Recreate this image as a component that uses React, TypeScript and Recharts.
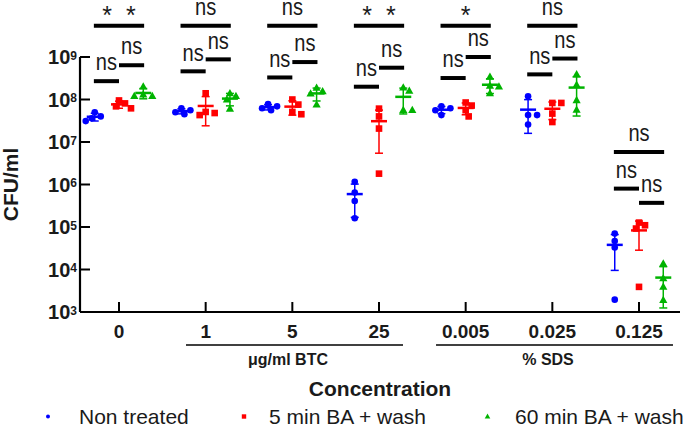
import React from 'react';
import { ComposedChart, Scatter, XAxis, YAxis, ErrorBar, ReferenceLine, Legend } from 'recharts';

// ---------- data ----------
const categories = ['0', '1', '5', '25', '0.005', '0.025', '0.125'];
const seriesNames = ['Non treated', '5 min BA + wash', '60 min BA + wash'];
const seriesColors = ['#0000ff', '#ff0000', '#00b300'];

const nonTreated = [
  [5.0e7, 4.0e7, 3.6e7, 3.1e7],
  [6.2e7, 5.6e7, 5.0e7, 4.5e7],
  [7.8e7, 6.9e7, 6.2e7, 5.6e7],
  [1.16e6, 6.5e5, 4.1e5, 1.6e5],
  [6.9e7, 6.2e7, 5.6e7, 4.3e7],
  [1.19e8, 4.3e7, 4.3e7, 2.57e7],
  [7.0e4, 4.7e4, 3.3e4, 1.95e3],
];
const fiveMinWash = [
  [9.5e7, 8.1e7, 6.9e7, 6.2e7],
  [1.4e8, 5.1e7, 4.8e7, 4.3e7],
  [1.0e8, 7.6e7, 5.1e7, 4.5e7],
  [6.1e7, 4.0e7, 2.07e7, 1.8e6],
  [8.5e7, 7.2e7, 5.6e7, 4.0e7],
  [8.3e7, 8.3e7, 4.66e7, 2.95e7],
  [1.27e5, 1.1e5, 9.2e4, 3.9e3],
];
const sixtyMinWash = [
  [2.0e8, 1.3e8, 1.2e8, 1.2e8],
  [1.4e8, 1.2e8, 1.0e8, 6.0e7],
  [1.87e8, 1.55e8, 1.38e8, 7.6e7],
  [1.9e8, 1.6e8, 5.6e7, 5.6e7],
  [3.4e8, 2.1e8, 2.0e8, 1.4e8],
  [3.9e8, 2.2e8, 9.6e7, 5.7e7],
  [1.38e4, 6.2e3, 3.9e3, 1.9e3],
];

const yTicks = [1e3, 1e4, 1e5, 1e6, 1e7, 1e8, 1e9];
const xTicks = [0, 1, 2, 3, 4, 5, 6];

// significance annotations (per concentration)
const topLevels = [5.4e9, 5.4e9, 5.4e9, 5.4e9, 5.4e9, 5.4e9, 5.8e6];
const topLabels = ['* *', 'ns', 'ns', '* *', '*', 'ns', 'ns'];
const leftLevels = [2.7e8, 4.6e8, 3.3e8, 2.0e8, 3.2e8, 3.9e8, 8.0e5];
const leftLabels = ['ns', 'ns', 'ns', 'ns', 'ns', 'ns', 'ns'];
const rightLevels = [6.4e8, 8.8e8, 7.6e8, 5.6e8, 1.0e9, 9.2e8, 3.7e5];
const rightLabels = ['ns', 'ns', 'ns', 'ns', 'ns', 'ns', 'ns'];

const groupLabels = ['\u03bcg/ml BTC', '% SDS'];
const groupStarts = [0.773, 3.658];
const groupEnds = [3.277, 6.392];

// ---------- layout ----------
const W = 688;
const H = 428;
const MARGIN = { top: 57, right: 8, bottom: 86, left: 20 };
const Y_AXIS_W = 60;
const X_AXIS_H = 30;
const PLOT_W = W - MARGIN.left - MARGIN.right - Y_AXIS_W;
const PLOT_H = H - MARGIN.top - MARGIN.bottom - X_AXIS_H;
const X_MIN = -0.45;
const X_MAX = 6.473;
const Y_MIN = 1e3;
const Y_MAX = 1e9;
const SERIES_OFFSET = [-0.28, 0, 0.28];
const BRACKET_PAD = 0.01;
const FONT = "'Liberation Sans', Arial, Helvetica, sans-serif";
const TEXT = '#1a1a1a';

const pxPerUnit = PLOT_W / (X_MAX - X_MIN);
const pxPerDecade = PLOT_H / (Math.log10(Y_MAX) - Math.log10(Y_MIN));

function swarm(values: number[], d = 6.5, step = 3): number[] {
  const placed: { x: number; y: number }[] = [];
  const order = values.map((_, i) => i).sort((a, b) => values[b] - values[a]);
  const dx = new Array(values.length).fill(0);
  for (const i of order) {
    const y = -Math.log10(values[i]) * pxPerDecade;
    for (let k = 0; k < 60; k++) {
      const off = k === 0 ? 0 : (k % 2 === 1 ? 1 : -1) * Math.ceil(k / 2) * step;
      if (placed.every((p) => Math.hypot(p.x - off, p.y - y) >= d)) {
        dx[i] = off;
        placed.push({ x: off, y });
        break;
      }
    }
  }
  return dx.map((v) => v / pxPerUnit);
}

const mean = (a: number[]) => a.reduce((s, v) => s + v, 0) / a.length;
const stdev = (a: number[]) => {
  const m = mean(a);
  return Math.sqrt(a.reduce((s, v) => s + (v - m) * (v - m), 0) / (a.length - 1));
};

const allSeries = [nonTreated, fiveMinWash, sixtyMinWash];

const pointData = allSeries.map((groups, s) =>
  groups.flatMap((vals, g) => {
    const dx = swarm(vals);
    return vals.map((v, i) => ({ x: g + SERIES_OFFSET[s] + dx[i], y: v }));
  })
);

const meanData = allSeries.map((groups, s) =>
  groups.map((vals, g) => {
    const m = mean(vals);
    const sd = stdev(vals);
    return { x: g + SERIES_OFFSET[s], y: m, err: [Math.min(sd, m * 0.999), sd] };
  })
);

// ---------- shapes ----------
const pointShape = (s: number, color: string) => (p: any) => {
  const { cx, cy } = p;
  if (cx == null || cy == null) return <g />;
  if (s === 0) return <circle cx={cx} cy={cy} r={3.3} fill={color} />;
  if (s === 1) return <rect x={cx - 3.3} y={cy - 3.3} width={6.6} height={6.6} fill={color} />;
  return (
    <polygon
      points={`${cx},${cy - 4.4} ${cx - 4.1},${cy + 2.9} ${cx + 4.1},${cy + 2.9}`}
      fill={color}
    />
  );
};

const meanShape = (color: string) => (p: any) => {
  const { cx, cy } = p;
  if (cx == null || cy == null) return <g />;
  return <line x1={cx - 8} x2={cx + 8} y1={cy} y2={cy} stroke={color} strokeWidth={2.5} />;
};

const bracketShape = (label: string) => (p: any) => {
  const mx = (p.x1 + p.x2) / 2;
  const isStar = label.includes('*');
  return (
    <g>
      <line x1={p.x1} y1={p.y1} x2={p.x2} y2={p.y2} stroke="#000" strokeWidth={4} />
      {isStar ? (
        <text x={mx} y={p.y1 - 2} textAnchor="middle" fontFamily={FONT} fontSize={25} fill={TEXT}>
          {label.replace(/ /g, '\u00a0\u00a0')}
        </text>
      ) : (
        <text
          transform={`translate(${mx},${p.y1 - 10.8}) scale(0.82,1)`}
          textAnchor="middle"
          fontFamily={FONT}
          fontSize={24.5}
          fill={TEXT}
        >
          {label}
        </text>
      )}
    </g>
  );
};

const groupShape = (label: string) => (p: any) => {
  const mx = (p.x1 + p.x2) / 2;
  return (
    <g>
      <line x1={p.x1} y1={p.y1 + 33} x2={p.x2} y2={p.y2 + 33} stroke="#000" strokeWidth={1.3} />
      <text
        x={mx - 6.5}
        y={p.y1 + 53}
        textAnchor="middle"
        fontFamily={FONT}
        fontWeight={700}
        fontSize={16}
        fill={TEXT}
      >
        {label}
      </text>
    </g>
  );
};

// ---------- ticks & labels ----------
const YTick = (props: any) => {
  const { x, y, payload } = props;
  const exp = Math.round(Math.log10(payload.value));
  return (
    <text x={x} y={y + 7.3} textAnchor="end" fontFamily={FONT} fontWeight={700} fontSize={20} fill={TEXT}>
      10
      <tspan dy={-4.6} fontSize={12}>
        {exp}
      </tspan>
    </text>
  );
};

const XTick = (props: any) => {
  const { x, y, payload } = props;
  return (
    <text x={x} y={y} textAnchor="middle" fontFamily={FONT} fontWeight={700} fontSize={19} fill={TEXT}>
      {categories[payload.value]}
    </text>
  );
};

const YLabel = (props: any) => {
  const vb = props.viewBox || { x: MARGIN.left, y: MARGIN.top, width: Y_AXIS_W, height: PLOT_H };
  return (
    <text
      transform={`translate(${vb.x - 1.7},${vb.y + vb.height / 2}) rotate(-90)`}
      textAnchor="middle"
      fontFamily={FONT}
      fontWeight={700}
      fontSize={21}
      fill={TEXT}
    >
      CFU/ml
    </text>
  );
};

const XLabel = (props: any) => {
  const vb = props.viewBox || { x: MARGIN.left + Y_AXIS_W, y: MARGIN.top + PLOT_H, width: PLOT_W, height: X_AXIS_H };
  return (
    <text
      x={vb.x + vb.width / 2}
      y={vb.y + 84}
      textAnchor="middle"
      fontFamily={FONT}
      fontWeight={700}
      fontSize={21}
      fill={TEXT}
    >
      Concentration
    </text>
  );
};

const LEG_MARK_X = [48, 244, 487.5];
const LEG_TEXT_X = [79, 269, 515];

const legendMarker = (i: number, x: number, y: number, color: string) => {
  if (i === 0) return <circle cx={x} cy={y} r={2} fill={color} />;
  if (i === 1) return <rect x={x - 2.2} y={y - 2.2} width={4.4} height={4.4} fill={color} />;
  return <polygon points={`${x},${y - 3} ${x - 2.8},${y + 2} ${x + 2.8},${y + 2}`} fill={color} />;
};

const renderLegend = (props: any) => {
  const payload = props.payload || [];
  return (
    <svg width={W} height={30} style={{ display: 'block' }}>
      {payload.map((e: any) => {
        const i = seriesNames.indexOf(e.value);
        if (i < 0) return null;
        return (
          <g key={e.value}>
            {legendMarker(i, LEG_MARK_X[i], 18.5, seriesColors[i])}
            <text x={LEG_TEXT_X[i]} y={26} fontFamily={FONT} fontSize={21} fill={TEXT}>
              {e.value}
            </text>
          </g>
        );
      })}
    </svg>
  );
};

export default function App() {
  const brackets: React.ReactNode[] = [];
  categories.forEach((_, g) => {
    const bx = (s: number) => g + SERIES_OFFSET[s];
    brackets.push(
      <ReferenceLine
        key={`t${g}`}
        segment={[
          { x: bx(0) - BRACKET_PAD, y: topLevels[g] },
          { x: bx(2) + BRACKET_PAD, y: topLevels[g] },
        ]}
        ifOverflow="visible"
        shape={bracketShape(topLabels[g])}
      />,
      <ReferenceLine
        key={`l${g}`}
        segment={[
          { x: bx(0) - BRACKET_PAD, y: leftLevels[g] },
          { x: bx(1), y: leftLevels[g] },
        ]}
        ifOverflow="visible"
        shape={bracketShape(leftLabels[g])}
      />,
      <ReferenceLine
        key={`r${g}`}
        segment={[
          { x: bx(1), y: rightLevels[g] },
          { x: bx(2) + BRACKET_PAD, y: rightLevels[g] },
        ]}
        ifOverflow="visible"
        shape={bracketShape(rightLabels[g])}
      />
    );
  });

  return (
    <div style={{ position: 'absolute', left: 0, top: 0, width: W, height: H, background: '#fff' }}>
      <ComposedChart width={W} height={H} margin={MARGIN}>
        <XAxis
          type="number"
          dataKey="x"
          domain={[X_MIN, X_MAX]}
          allowDataOverflow
          ticks={xTicks}
          interval={0}
          height={X_AXIS_H}
          tickSize={-10}
          tickMargin={36}
          tick={<XTick />}
          axisLine={{ stroke: '#000', strokeWidth: 2 }}
          tickLine={{ stroke: '#000', strokeWidth: 2 }}
          label={<XLabel />}
        />
        <YAxis
          type="number"
          dataKey="y"
          scale="log"
          domain={[Y_MIN, Y_MAX]}
          allowDataOverflow
          ticks={yTicks}
          interval={0}
          width={Y_AXIS_W}
          tickSize={-10}
          tickMargin={13}
          tick={<YTick />}
          axisLine={{ stroke: '#000', strokeWidth: 2.2 }}
          tickLine={{ stroke: '#000', strokeWidth: 2 }}
          label={<YLabel />}
        />
        {pointData.map((d, s) => (
          <Scatter
            key={`p${s}`}
            name={seriesNames[s]}
            data={d}
            fill={seriesColors[s]}
            legendType={s === 0 ? 'circle' : s === 1 ? 'square' : 'triangle'}
            shape={pointShape(s, seriesColors[s])}
            isAnimationActive={false}
          />
        ))}
        {meanData.map((d, s) => (
          <Scatter
            key={`m${s}`}
            name={`${seriesNames[s]} mean`}
            data={d}
            fill={seriesColors[s]}
            legendType="none"
            shape={meanShape(seriesColors[s])}
            isAnimationActive={false}
          >
            <ErrorBar
              dataKey="err"
              direction="y"
              width={4}
              stroke={seriesColors[s]}
              strokeWidth={1.5}
              isAnimationActive={false}
            />
          </Scatter>
        ))}
        {brackets}
        {groupLabels.map((lab, i) => (
          <ReferenceLine
            key={`g${i}`}
            segment={[
              { x: groupStarts[i], y: Y_MIN },
              { x: groupEnds[i], y: Y_MIN },
            ]}
            ifOverflow="visible"
            shape={groupShape(lab)}
          />
        ))}
        <Legend
          layout="horizontal"
          verticalAlign="middle"
          align="center"
          content={renderLegend}
          wrapperStyle={{ left: 0, top: 398, width: W, height: 30 }}
        />
      </ComposedChart>
    </div>
  );
}
